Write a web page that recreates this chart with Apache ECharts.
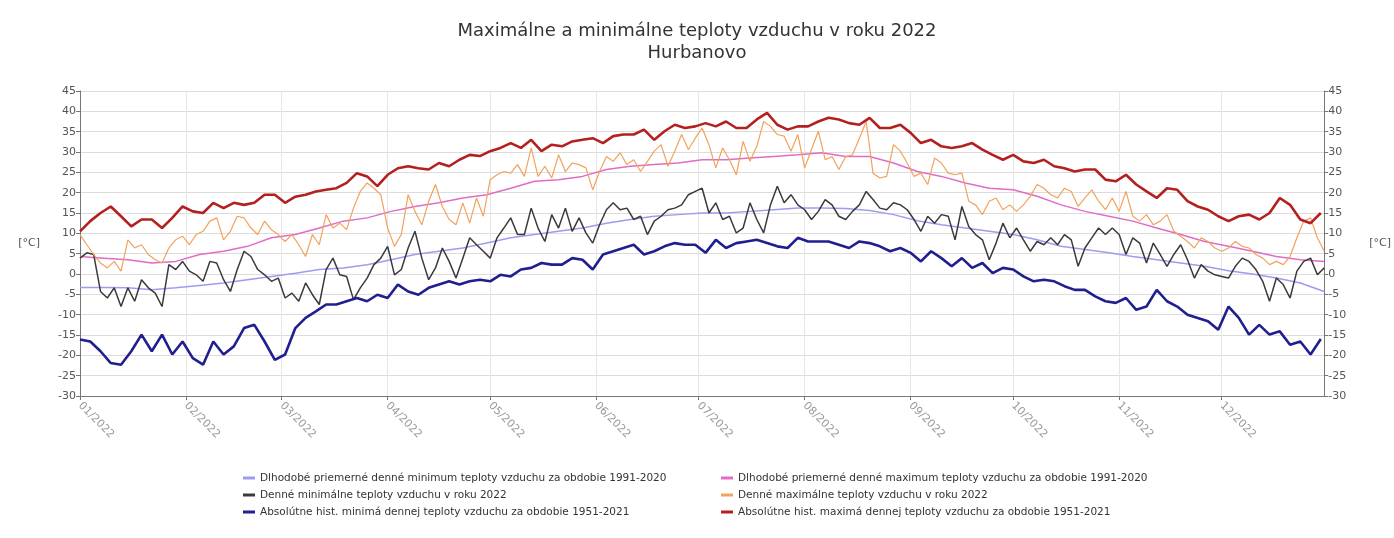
<!DOCTYPE html>
<html>
<head>
<meta charset="utf-8">
<script src="https://cdn.jsdelivr.net/npm/echarts@6/dist/echarts.min.js"></script>
<style>
html,body{margin:0;padding:0;background:#fff;}
#chart{width:1394px;height:538px;}
</style>
</head>
<body>
<div id="chart"></div>
<script>
// ---- DATA ----
const titleText = 'Maximálne a minimálne teploty vzduchu v roku 2022\nHurbanovo';
const seriesNames = [
  'Dlhodobé priemerné denné minimum teploty vzduchu za obdobie 1991-2020',
  'Denné minimálne teploty vzduchu v roku 2022',
  'Absolútne hist. minimá dennej teploty vzduchu za obdobie 1951-2021',
  'Dlhodobé priemerné denné maximum teploty vzduchu za obdobie 1991-2020',
  'Denné maximálne teploty vzduchu v roku 2022',
  'Absolútne hist. maximá dennej teploty vzduchu za obdobie 1951-2021'
];
const yTicks = {min: -30, max: 45, interval: 5};

// long-term normals, one value every 7 days from 1 Jan
const normStep = 7;
const normMin = [-3.3,-3.3,-3.4,-3.9,-3.4,-2.8,-2.2,-1.4,-0.6,0.2,1.1,
  1.5,2.3,3.5,4.8,5.6,6.4,7.6,8.9,9.7,10.5,
  11.3,12.5,13.4,14.2,14.6,15,15,15.4,15.8,16.2,16.2,
  16.1,15.6,14.6,13.1,12.1,11.3,10.5,9.7,8.4,6.8,
  6,5.2,4.3,3.5,2.7,1.9,0.8,0,-1,-2.2,-4.3];
const normMax = [4.3,3.9,3.5,2.7,3.1,4.8,5.6,6.8,8.9,9.7,11.3,
  13,13.8,15.4,16.6,17.5,18.7,19.5,21.1,22.8,23.2,
  24,25.7,26.5,26.9,27.3,28.1,28.1,28.5,28.9,29.3,29.8,
  28.9,28.9,27.3,25.2,24,22.4,21.1,20.7,19.1,17,
  15.4,14.2,13,11.3,9.7,8,6.8,5.6,4.3,3.5,3.1];

// year 2022, one value every 2 days from 1 Jan
const dayStep = 2;
const min2022 = [3.9,5.2,4.8,-4.3,-5.9,-3.4,-8,-3.4,-6.7,-1.4,-3.4,-4.7,-8,2.3,1.1,3.1,0.7,-0.2,-1.8,3.1,2.7,-1.4,-4.3,1.1,5.6,4.3,1.1,-0.2,-1.8,-1,-5.9,-4.7,-6.7,-2.2,-5.1,-7.5,1.1,
  3.9,-0.2,-0.6,-6.3,-3.4,-1,2.3,3.9,6.8,-0.2,1.1,6.4,10.5,3.9,-1.4,1.5,6.4,3.1,-1,3.9,8.9,7.2,5.6,3.9,8.9,11.3,13.8,9.7,9.7,16.2,11.3,8,14.6,11.3,16.2,10.5,
  13.8,10.1,7.6,12.1,15.8,17.5,15.8,16.2,13.4,14.2,9.7,13,14.2,15.8,16.2,17,19.5,20.3,21.1,15,17.5,13.4,14.2,10.1,11.3,17.5,13.4,10.1,17,21.6,17.5,19.5,17,15.8,13.4,15.4,18.3,
  17,14.2,13.4,15.4,17,20.3,18.3,16.2,15.8,17.5,17,15.8,13.4,10.5,14.2,12.5,14.6,14.2,8.4,16.6,11.7,9.7,8.4,3.5,7.6,12.5,8.9,11.3,8.4,5.6,8,7.2,8.9,7.2,9.7,8.4,1.9,
  6.4,8.9,11.3,9.7,11.3,9.7,4.8,8.9,7.6,2.7,7.6,4.8,1.9,4.8,7.2,3.5,-1,2.3,0.7,-0.2,-0.6,-1,1.9,3.9,3.1,1.1,-1.8,-6.7,-1,-2.6,-5.9,0.7,3.1,3.9,-0.2,1.5];
const max2022 = [9.7,7.2,4.8,2.7,1.5,3.1,0.7,8.4,6.4,7.2,4.8,3.5,2.7,6.4,8.4,9.3,7.2,9.7,10.5,13,13.8,8.4,10.5,14.2,13.8,11.3,9.7,13,10.9,9.7,8,9.7,7.2,4.3,9.7,7.2,14.6,
  11.3,12.5,10.9,16.2,20.3,22.4,21.1,19.5,11.3,6.8,9.7,19.5,15.4,12.1,17.9,22,16.6,13.4,12.1,17.5,12.5,18.7,14.2,23.2,24.4,25.2,24.8,26.9,24,31,24,26.5,23.6,29.3,25.2,27.3,
  26.9,26.1,20.7,25.2,28.9,27.7,29.8,26.9,28.1,25.2,27.7,30.2,31.8,26.5,30.2,34.3,30.6,33.4,35.9,31.8,26.1,31,28.1,24.4,32.6,27.7,31.4,37.5,36.3,34.3,33.9,30.2,34.3,26.1,30.6,35.1,28.1,
  28.9,25.7,28.9,29.3,33.4,37.5,24.8,23.6,24,31.8,30.2,27.3,24,24.8,22,28.5,27.3,24.8,24.4,24.8,17.9,17,14.6,17.9,18.7,15.8,17,15.4,17,19.1,22,21.1,19.5,18.7,21.1,20.3,16.6,
  18.7,20.7,17.9,15.8,18.7,15.4,20.3,14.2,13,14.6,12.1,13,14.6,10.5,9.3,8,6.4,8.9,8,6.4,5.6,6.4,8,6.8,6.4,4.8,3.9,2.3,3.1,2.3,4.3,8.9,13,13.8,8.9,5.6];

// absolute historical extremes, one value every 3 days from 1 Jan
const absStep = 3;
const absMin = [-16.1,-16.6,-19,-21.9,-22.3,-19,-14.9,-19,-14.9,-19.8,-16.6,-20.7,-22.3,-16.6,-19.8,-17.8,-13.3,-12.5,-16.6,-21.1,-19.8,-13.3,-10.8,-9.2,-7.5,
  -7.5,-6.7,-5.9,-6.7,-5.1,-5.9,-2.6,-4.3,-5.1,-3.4,-2.6,-1.8,-2.6,-1.8,-1.4,-1.8,-0.2,-0.6,1.1,1.5,2.7,2.3,2.3,3.9,
  3.5,1.1,4.8,5.6,6.4,7.2,4.8,5.6,6.8,7.6,7.2,7.2,5.2,8.4,6.4,7.6,8,8.4,7.6,6.8,6.4,8.9,8,8,
  8,7.2,6.4,8,7.6,6.8,5.6,6.4,5.2,3.1,5.6,3.9,1.9,3.9,1.5,2.7,0.2,1.5,1.1,-0.6,-1.8,-1.4,-1.8,-3,-3.9,
  -3.9,-5.5,-6.7,-7.1,-5.9,-8.8,-8,-3.9,-6.7,-8,-10,-10.8,-11.6,-13.7,-8,-10.8,-14.9,-12.5,-14.9,-14.1,-17.4,-16.6,-19.8,-16];
const absMax = [10.5,13,15,16.6,14.2,11.7,13.4,13.4,11.3,13.8,16.6,15.4,15,17.5,16.2,17.5,17,17.5,19.5,19.5,17.5,19,19.5,20.3,20.7,
  21.1,22.4,24.8,24,21.6,24.4,26,26.5,26,25.7,27.3,26.5,28.1,29.3,29,30.2,31,32.2,31,33,30.2,31.8,31.4,32.6,
  33,33.4,32.2,33.9,34.3,34.3,35.5,33,35.1,36.7,35.9,36.3,37.1,36.3,37.5,35.9,35.9,38,39.6,36.7,35.5,36.3,36.3,37.5,
  38.4,38,37.1,36.7,38.4,35.9,35.9,36.7,34.7,32.2,33,31.4,31,31.4,32.2,30.6,29.3,28.1,29.3,27.7,27.3,28.1,26.5,26,25.2,
  25.7,25.7,23.2,22.8,24.4,22,20.3,18.7,21.1,20.7,17.9,16.6,15.8,14.2,13,14.2,14.6,13.4,15,18.7,17,13.4,12.5,15];

// ---- BUILD ----
const days = [];
for (let d = new Date(Date.UTC(2022,0,1)); d.getUTCFullYear() === 2022; d.setUTCDate(d.getUTCDate()+1)) {
  const m = String(d.getUTCMonth()+1).padStart(2,'0');
  const dd = String(d.getUTCDate()).padStart(2,'0');
  days.push(m + '/' + dd + '/2022');
}
const isMonthStart = (i) => days[i].slice(3,5) === '01';
const expand = (arr, step) => arr.map((v,i) => [i*step, v]);

const colors = ['#9d9cf0','#3a3a3a','#1f1f8f','#e06cc8','#f2a25c','#b3201f'];
const widths = [1.5, 1.5, 2.6, 1.5, 1.2, 2.6];
const dataSets = [expand(normMin,normStep), expand(min2022,dayStep), expand(absMin,absStep),
                  expand(normMax,normStep), expand(max2022,dayStep), expand(absMax,absStep)];

const series = seriesNames.map((n,k) => ({
  name: n, type: 'line', data: dataSets[k], showSymbol: false, symbol: 'none',
  lineStyle: {color: colors[k], width: widths[k]}, itemStyle: {color: colors[k]},
  z: [2,3,4,2,3,4][k]
}));

const yAxisCommon = {
  type: 'value', min: yTicks.min, max: yTicks.max, interval: yTicks.interval,
  name: '[°C]', nameLocation: 'middle', nameRotate: 0,
  nameTextStyle: {color: '#555', fontSize: 11, fontFamily: 'DejaVu Sans'},
  axisLine: {show: true, lineStyle: {color: '#777'}},
  axisTick: {show: true, length: 4, lineStyle: {color: '#777'}},
  axisLabel: {color: '#555', fontSize: 11, fontFamily: 'DejaVu Sans', margin: 4}
};

const legendCommon = {
  orient: 'vertical', icon: 'rect', itemWidth: 12, itemHeight: 3, itemGap: 5,
  textStyle: {fontSize: 10.5, color: '#333', fontFamily: 'DejaVu Sans', lineHeight: 12}
};

const chart = echarts.init(document.getElementById('chart'), null, {renderer: 'canvas'});
chart.setOption({
  animation: false,
  backgroundColor: '#fff',
  title: {
    text: titleText, left: 'center', top: 15,
    textStyle: {fontSize: 18, fontWeight: 'normal', color: '#333', fontFamily: 'DejaVu Sans', lineHeight: 22}
  },
  grid: {left: 80, right: 68, top: 91, bottom: 142},
  legend: [
    Object.assign({}, legendCommon, {left: 238, top: 467, data: seriesNames.slice(0,3)}),
    Object.assign({}, legendCommon, {left: 716, top: 467, data: seriesNames.slice(3,6)})
  ],
  xAxis: {
    type: 'category', data: days, boundaryGap: false,
    axisLine: {onZero: false, lineStyle: {color: '#777'}},
    axisTick: {show: true, interval: (i) => isMonthStart(i), length: 4, lineStyle: {color: '#777'}},
    axisLabel: {
      interval: (i) => isMonthStart(i), rotate: -45, color: '#999', fontSize: 11, fontFamily: 'DejaVu Sans', margin: 8,
      formatter: (v) => v.slice(0,2) + '/' + v.slice(6)
    },
    splitLine: {show: true, interval: (i) => isMonthStart(i), lineStyle: {color: '#e6e6e6'}}
  },
  yAxis: [
    Object.assign({}, yAxisCommon, {position: 'left', nameGap: 40, splitLine: {show: true, lineStyle: {color: '#dcdcdc'}}}),
    Object.assign({}, yAxisCommon, {position: 'right', nameGap: 45, splitLine: {show: false}})
  ],
  series: series
});
</script>
</body>
</html>
